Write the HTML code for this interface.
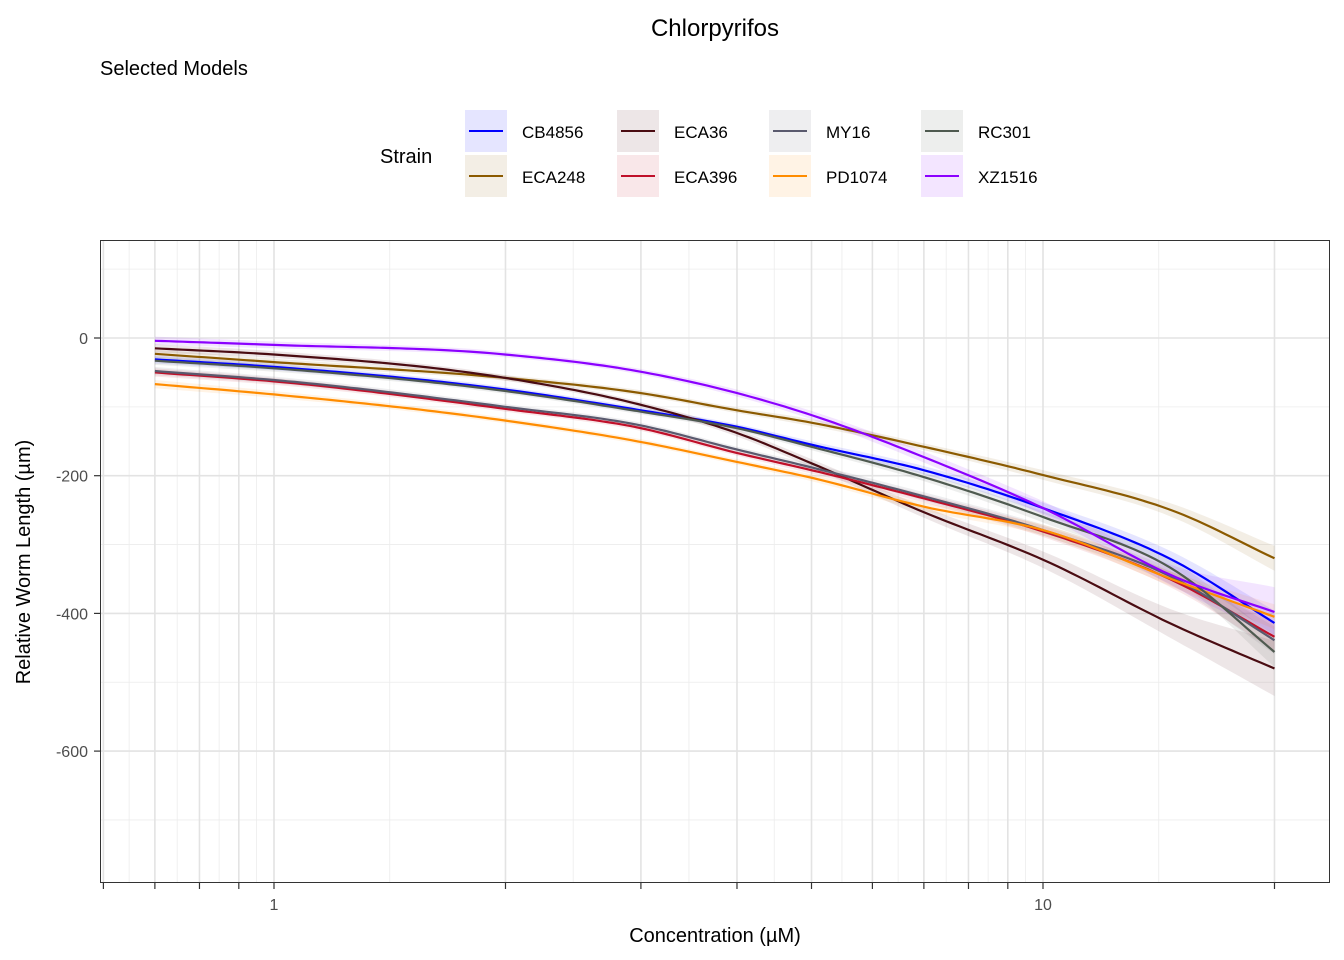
<!DOCTYPE html>
<html><head><meta charset="utf-8"><style>
body{margin:0;background:#fff;font-family:"Liberation Sans",Arial,sans-serif;}
svg{display:block}
</style></head><body>
<svg id="chart" width="1344" height="960" viewBox="0 0 1344 960" xmlns="http://www.w3.org/2000/svg" font-family="Liberation Sans, Arial, sans-serif">
<text x="715" y="36" font-size="24" text-anchor="middle" fill="#000">Chlorpyrifos</text>
<text x="100" y="75" font-size="20" fill="#000">Selected Models</text>
<text x="380" y="163" font-size="20" fill="#000">Strain</text>
<g id="legend"></g>
<rect x="100" y="240" width="1230" height="643" fill="#fff"/>
<g id="grid"></g>
<g id="ribbons"></g>
<g id="lines"></g>
<rect x="100.5" y="240.5" width="1229" height="642" fill="none" stroke="#333" stroke-width="1"/>
<g id="axes"></g>
<text x="715" y="942" font-size="20" text-anchor="middle" fill="#000">Concentration (µM)</text>
<text transform="translate(30,562) rotate(-90)" font-size="20" text-anchor="middle" fill="#000">Relative Worm Length (µm)</text>
</svg>
<script>
const conc = [0.7, 1, 2, 3, 4, 5, 7, 10, 15, 20];
const strains = ["CB4856","ECA248","ECA36","ECA396","MY16","PD1074","RC301","XZ1516"];
const colors = ["#0000ff","#8b5a00","#4a0c12","#c0102a","#5a5a6e","#ff8c00","#4f5a50","#8b00ff"];
const vCB4856 = [-31,-42,-75,-105,-129,-155,-192,-247,-327,-414];
const vECA248 = [-23,-35,-58,-80,-105,-123,-158,-199,-254,-320];
const vECA36  = [-15,-24,-58,-97,-138,-182,-253,-322,-420,-480];
const vECA396 = [-50,-63,-103,-131,-167,-192,-233,-281,-356,-434];
const vMY16   = [-48,-61,-100,-127,-162,-188,-230,-279,-352,-439];
const vPD1074 = [-67,-82,-120,-151,-180,-203,-245,-279,-354,-405];
const vRC301  = [-33,-44,-77,-107,-131,-158,-202,-260,-341,-456];
const vXZ1516 = [-4,-10,-24,-49,-80,-112,-173,-247,-349,-398];
const ciCB4856 = [6,5,4,4,4,5,6,8,12,18];
const ciECA248 = [6,5,4,4,4,5,5,7,10,18];
const ciECA36  = [6,5,4,4,5,6,8,12,22,40];
const ciECA396 = [6,5,4,4,4,5,6,8,12,20];
const ciMY16   = [6,5,4,4,4,5,6,8,12,20];
const ciPD1074 = [6,5,4,4,4,5,6,8,11,18];
const ciRC301  = [6,5,4,4,4,5,6,8,12,22];
const ciXZ1516 = [6,5,4,4,5,6,8,10,16,36];
const values = [vCB4856,vECA248,vECA36,vECA396,vMY16,vPD1074,vRC301,vXZ1516];
const cis = [ciCB4856,ciECA248,ciECA36,ciECA396,ciMY16,ciPD1074,ciRC301,ciXZ1516];
const xTicks = [0.6,0.7,0.8,0.9,1,2,3,4,5,6,7,8,9,10,20];
const xTickLabels = ["","","","","1","","","","","","","","","10",""];
const yTicks = [0,-200,-400,-600];
const yMinor = [100,-100,-300,-500,-700];

const NS="http://www.w3.org/2000/svg";
function X(c){return 274+769*Math.log10(c);}
function Y(v){return 338-v*0.6885;}
function mk(tag,attrs,parent){const e=document.createElementNS(NS,tag);for(const k in attrs)e.setAttribute(k,attrs[k]);parent.appendChild(e);return e;}

function interp(xs,ys){
  const n=xs.length,d=[],m=new Array(n);
  for(let i=0;i<n-1;i++)d.push((ys[i+1]-ys[i])/(xs[i+1]-xs[i]));
  m[0]=d[0];m[n-1]=d[n-2];
  for(let i=1;i<n-1;i++){const h0=xs[i]-xs[i-1],h1=xs[i+1]-xs[i];m[i]=d[i-1]*d[i]<=0?0:(d[i-1]*h1+d[i]*h0)/(h0+h1);}
  return function(x){let i=0;while(i<n-2&&x>xs[i+1])i++;const h=xs[i+1]-xs[i],t=(x-xs[i])/h,t2=t*t,t3=t2*t;
    return (2*t3-3*t2+1)*ys[i]+(t3-2*t2+t)*h*m[i]+(-2*t3+3*t2)*ys[i+1]+(t3-t2)*h*m[i+1];};
}
const lx=conc.map(c=>Math.log10(c));
function samples(ys){const f=interp(lx,ys),pts=[];const a=lx[0],b=lx[lx.length-1];for(let k=0;k<=160;k++){const l=a+(b-a)*k/160;pts.push([274+769*l,Y(f(l))]);}return pts;}

const grid=document.getElementById('grid');
for(let i=0;i<xTicks.length-1;i++){const c=Math.sqrt(xTicks[i]*xTicks[i+1]);const l=mk('line',{x1:X(c),x2:X(c),y1:240,y2:883,stroke:'#ececec','stroke-width':0.8},grid);
}
yMinor.forEach(v=>{const l=mk('line',{x1:100,x2:1330,y1:Y(v),y2:Y(v),stroke:'#ececec','stroke-width':0.8},grid);
});
xTicks.forEach(c=>{const l=mk('line',{x1:X(c),x2:X(c),y1:240,y2:883,stroke:'#e3e3e3','stroke-width':1.6},grid);
});
yTicks.forEach(v=>{const l=mk('line',{x1:100,x2:1330,y1:Y(v),y2:Y(v),stroke:'#e3e3e3','stroke-width':1.6},grid);
});

const rib=document.getElementById('ribbons'),lines=document.getElementById('lines');
strains.forEach((s,i)=>{
  const vs=values[i],ci=cis[i];
  const up=samples(vs.map((v,j)=>v+ci[j])),lo=samples(vs.map((v,j)=>v-ci[j]));
  const d='M'+up.map(p=>p[0].toFixed(1)+','+p[1].toFixed(1)).join('L')+'L'+lo.reverse().map(p=>p[0].toFixed(1)+','+p[1].toFixed(1)).join('L')+'Z';
  const r=mk('path',{d:d,fill:colors[i],'fill-opacity':0.1,stroke:'none'},rib);
  
  
});
strains.forEach((s,i)=>{
  const p=samples(values[i]);
  const l=mk('path',{d:'M'+p.map(q=>q[0].toFixed(1)+','+q[1].toFixed(1)).join('L'),fill:'none',stroke:colors[i],'stroke-width':2.2},lines);
  
  
});

const axes=document.getElementById('axes');
xTicks.forEach((c,i)=>{
  const t=mk('line',{x1:X(c),x2:X(c),y1:883,y2:889,stroke:'#333','stroke-width':1.2},axes);
  
  if(xTickLabels[i]){const tx=mk('text',{x:X(c),y:910,'font-size':16,'text-anchor':'middle',fill:'#4d4d4d'},axes);tx.textContent=xTickLabels[i];
  }
});
yTicks.forEach(v=>{
  const t=mk('line',{x1:94,x2:100,y1:Y(v),y2:Y(v),stroke:'#333','stroke-width':1.2},axes);
  
  const tx=mk('text',{x:88,y:Y(v)+6,'font-size':16,'text-anchor':'end',fill:'#4d4d4d'},axes);tx.textContent=String(v);
  
});

const leg=document.getElementById('legend');
const order=[0,2,4,6,1,3,5,7];
order.forEach((si,k)=>{
  const col=k%4,row=Math.floor(k/4);
  const x=465+col*152,y=110+row*45;
  const g=mk('g',{},leg);
  
  
  mk('rect',{x:x,y:y,width:42,height:42,fill:colors[si],'fill-opacity':0.1},g);
  mk('line',{x1:x+4,x2:x+38,y1:y+21,y2:y+21,stroke:colors[si],'stroke-width':2},g);
  const t=mk('text',{x:x+57,y:y+28,'font-size':17,fill:'#000'},g);t.textContent=strains[si];
});
</script>
</body></html>
